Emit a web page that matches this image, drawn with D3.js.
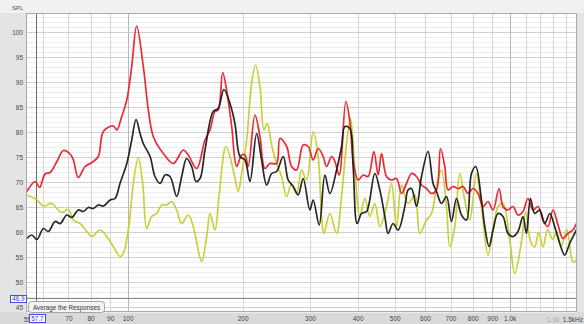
<!DOCTYPE html>
<html>
<head>
<meta charset="utf-8">
<script src="https://cdn.jsdelivr.net/npm/d3@7"></script>
<style>
  html, body { margin: 0; padding: 0; background: #e6e6e6; }
  svg { display: block; }
  text { font-family: "Liberation Sans", Arial, sans-serif; }
</style>
</head>
<body>
<script>
// Frequency response traces (Hz, dB SPL)
const freqRed = [54.5,57.3,58.8,60.8,62.7,65.3,67.9,70.7,72.1,74.3,77.4,80.6,83.8,86.4,91.7,93.7,96.5,99.5,102.5,105.6,109.9,113.3,116.7,124.0,131.7,139.8,144.1,151.6,159.4,164.3,169.3,172.6,177.3,181.6,187.2,192.9,198.8,202.8,206.8,215.4,222.0,228.7,235.7,245.4,250.4,260.7,268.6,276.9,288.0,296.8,305.9,315.3,324.9,331.7,341.8,348.7,357.8,372.5,381.6,389.2,401.1,413.4,426.0,441.0,452.5,461.9,476.0,490.5,505.5,521.0,536.9,553.3,570.2,587.7,605.6,624.2,643.2,658.9,676.2,689.7,710.8,732.5,754.9,777.9,801.7,826.2,851.5,877.5,904.3,937.7,960.4,989.8,1020,1051,1083,1116,1151,1186,1222,1259,1298,1338,1378,1420,1464,1494];
const splRed = [68.1,70.1,68.9,71.6,71.9,74.1,76.3,75.6,74.4,70.9,73.1,73.9,75.1,80.1,81.2,80.4,83.1,86.4,93.1,101.2,93.1,84.4,79.1,75.7,73.7,76.4,75.4,72.7,78.4,80.4,84.1,84.4,91.9,88.4,81.1,73.1,75.4,75.4,73.1,83.4,79.1,72.7,73.7,73.7,78.7,77.1,73.1,72.4,77.4,77.1,74.4,76.7,75.1,73.1,75.1,74.1,71.4,86.1,82.1,74.4,70.4,71.4,71.1,76.1,71.4,75.7,71.1,70.4,70.7,67.7,69.7,71.7,71.1,69.4,68.7,67.7,68.4,76.7,73.1,68.4,69.1,68.7,69.1,67.7,68.7,67.7,65.1,66.1,64.4,68.7,65.1,64.4,65.1,63.4,64.1,66.7,64.4,65.1,62.4,61.1,64.4,61.4,58.7,59.7,60.4,61.7];

const freqBlack = [54.5,56.1,57.9,60.2,62.0,64.6,66.6,69.3,71.4,74.3,76.6,78.9,81.3,83.8,86.4,90.0,92.7,95.5,99.5,102.5,105.2,107.8,109.9,114.5,117.9,121.6,125.3,129.1,134.4,138.5,142.7,147.1,151.0,154.7,159.4,167.5,172.6,178.6,185.3,190.9,196.8,202.8,209.0,217.6,224.2,231.1,238.2,245.4,255.4,263.2,271.2,279.5,288.0,299.9,305.9,317.2,328.3,338.3,352.3,363.0,370.3,381.6,389.2,398.7,409.5,422.0,443.6,457.2,471.2,480.5,495.2,510.4,531.5,542.0,553.3,570.2,587.7,611.4,630.1,643.2,662.9,683.2,704.0,725.5,747.7,770.6,794.1,814.9,843.4,860.3,882.9,904.3,932.0,960.4,989.8,1020,1051,1083,1106,1133,1163,1198,1235,1273,1311,1352,1393,1435,1479,1497];
const splBlack = [58.7,59.4,58.5,60.7,60.1,62.1,61.7,63.4,62.9,64.4,64.1,64.9,64.7,65.4,65.2,66.4,66.7,69.7,73.7,78.4,82.5,79.7,77.7,75.1,71.1,69.7,71.4,71.1,67.1,71.1,74.7,73.1,70.1,70.7,76.4,84.1,84.7,88.5,85.7,81.7,75.1,74.4,70.1,79.7,74.4,69.4,71.7,72.1,75.1,70.4,69.1,67.4,70.7,64.4,66.4,61.4,71.4,67.7,72.4,77.1,81.1,80.7,73.1,61.7,63.7,64.1,71.7,68.4,63.1,59.7,61.7,60.4,65.1,68.4,68.7,65.1,71.1,76.1,69.7,68.1,65.7,67.1,62.1,66.7,63.4,62.4,71.7,73.1,66.4,61.1,57.1,60.4,63.7,63.1,59.7,59.1,60.1,63.1,59.7,66.7,63.7,64.4,61.7,63.7,61.1,57.7,55.4,57.7,59.7,60.5];

const freqYellow = [54.5,57.9,60.2,63.3,65.3,67.2,70.0,72.1,75.1,78.2,80.6,84.7,88.2,91.7,95.5,97.4,100.4,103.5,106.6,109.5,112.2,115.6,119.2,122.8,126.6,130.4,134.4,138.5,144.1,148.5,156.2,161.0,164.3,169.3,173.7,180.9,189.0,194.7,198.8,204.9,211.1,216.3,222.0,227.4,231.9,238.2,245.4,252.9,260.7,268.6,276.9,285.3,294.0,305.9,315.3,321.8,326.3,338.3,352.3,363.0,374.1,383.2,393.3,405.3,417.7,430.5,443.6,457.2,476.0,490.5,505.5,521.0,542.0,564.4,581.7,605.6,624.2,643.2,662.9,683.2,696.9,718.2,740.1,762.7,786.0,818.4,843.4,877.5,904.3,932.0,960.4,1000,1031,1073,1101,1135,1163,1190,1222,1257,1296,1327,1364,1411,1464,1494];
const splYellow = [67.4,66.4,65.2,65.7,64.7,63.9,64.5,62.4,61.7,60.1,59.1,60.4,59.1,57.1,55.1,55.7,60.4,69.7,74.9,69.7,60.7,63.1,63.7,65.4,65.4,66.1,64.4,61.7,63.4,61.1,54.1,59.1,63.7,60.4,67.7,77.1,72.4,68.1,71.7,78.4,89.7,93.4,89.1,80.4,81.7,77.4,73.7,71.1,67.1,69.7,67.7,72.4,70.4,80.1,75.1,63.1,59.7,63.7,59.7,67.1,77.7,82.7,72.4,63.1,66.7,63.1,65.7,61.1,65.1,69.7,61.1,69.4,65.7,67.4,59.7,62.4,63.7,69.1,72.4,65.1,57.1,61.1,71.7,66.4,62.4,71.7,65.1,55.4,60.4,65.1,65.7,58.4,51.7,58,64,58,57,60,57,60.5,58.5,60,57.1,60.5,54,54.4];

// Axis ticks
const dbTicks = [45,50,55,60,65,70,75,80,85,90,95,100];
const freqTicks = [70,80,90,100,200,300,400,500,600,700,800,900,1000];
const freqTickLabels = ["70","80","90","100","200","300","400","500","600","700","800","900","1.0k"];
const freqGrid = [60,70,80,90,100,200,300,400,500,600,700,800,900,1000,1100,1200,1300,1400];

// Cursor readout
const cursorFreq = 57.7;
const cursorSPL = 46.9;

const W = 584, H = 324;
const plot = { left: 26, right: 577, top: 13, bottom: 312 };

const x = d3.scaleLog().domain([54.2, 1500]).range([plot.left, plot.right]);
const y = d3.scaleLinear().domain([44, 103.8]).range([plot.bottom, plot.top]);

const svg = d3.select("body").append("svg").attr("width", W).attr("height", H);

// Backgrounds
svg.append("rect").attr("width", W).attr("height", H).attr("fill", "#e4e4e4");
svg.append("rect").attr("width", W).attr("height", plot.top).attr("fill", "#f1f1f1");
svg.append("rect").attr("y", plot.bottom).attr("width", W).attr("height", H - plot.bottom).attr("fill", "#d9d9d9");
svg.append("rect")
  .attr("x", plot.left).attr("y", plot.top)
  .attr("width", plot.right - plot.left).attr("height", plot.bottom - plot.top)
  .attr("fill", "#ffffff");

const grid = svg.append("g");

// Horizontal grid: 1 dB minor, 5 dB major
d3.range(44, 104).forEach(v => {
  const major = v % 5 === 0;
  grid.append("line")
    .attr("x1", plot.left).attr("x2", plot.right)
    .attr("y1", Math.round(y(v)) + 0.5).attr("y2", Math.round(y(v)) + 0.5)
    .attr("stroke", major ? "#cfcfcf" : "#eeeeee")
    .attr("stroke-width", 1);
});

// Vertical grid
freqGrid.forEach(f => {
  const dark = (f === 100 || f === 1000);
  grid.append("line")
    .attr("x1", Math.round(x(f)) + 0.5).attr("x2", Math.round(x(f)) + 0.5)
    .attr("y1", plot.top).attr("y2", plot.bottom)
    .attr("stroke", dark ? "#b8b8b8" : "#d6d6d6")
    .attr("stroke-width", 1);
});

// Cursor lines
grid.append("line")
  .attr("x1", plot.left).attr("x2", plot.right)
  .attr("y1", Math.round(y(cursorSPL)) + 0.5).attr("y2", Math.round(y(cursorSPL)) + 0.5)
  .attr("stroke", "#8a8a8a").attr("stroke-width", 1);
grid.append("line")
  .attr("x1", Math.round(x(cursorFreq)) + 0.5).attr("x2", Math.round(x(cursorFreq)) + 0.5)
  .attr("y1", plot.top).attr("y2", plot.bottom)
  .attr("stroke", "#6e6e6e").attr("stroke-width", 1);

// Plot frame
svg.append("rect")
  .attr("x", plot.left + 0.5).attr("y", plot.top + 0.5)
  .attr("width", plot.right - plot.left - 1).attr("height", plot.bottom - plot.top - 1)
  .attr("fill", "none").attr("stroke", "#a9a9a9");

// Traces
svg.append("clipPath").attr("id", "clip")
  .append("rect")
  .attr("x", plot.left + 1).attr("y", plot.top + 1)
  .attr("width", plot.right - plot.left - 2).attr("height", plot.bottom - plot.top - 2);

const line = d3.line()
  .x(d => x(d[0]))
  .y(d => y(d[1]))
  .curve(d3.curveCatmullRom.alpha(0.5));

const traces = [
  { f: freqYellow, v: splYellow, color: "#c6cf2c" },
  { f: freqRed, v: splRed, color: "#e8202a" },
  { f: freqBlack, v: splBlack, color: "#1c1c1c" }
];

const tg = svg.append("g").attr("clip-path", "url(#clip)");
traces.forEach(t => {
  tg.append("path")
    .datum(d3.zip(t.f, t.v))
    .attr("d", line)
    .attr("fill", "none")
    .attr("stroke", t.color)
    .attr("stroke-width", 1.7)
    .attr("stroke-linejoin", "round")
    .attr("opacity", 0.95);
});

// Y axis
const yAxis = d3.axisLeft(y).tickValues(dbTicks).tickSize(0).tickPadding(3);
const ya = svg.append("g").attr("transform", `translate(${plot.left},0)`).call(yAxis);
ya.select(".domain").remove();
ya.selectAll("text").attr("font-size", 6.5).attr("fill", "#444").attr("font-family", "Liberation Sans, Arial, sans-serif");

svg.append("text").attr("x", 12).attr("y", 9.5)
  .attr("font-size", 6).attr("fill", "#444").text("SPL");

// X axis
const xAxis = d3.axisBottom(x).tickValues(freqTicks).tickSize(0).tickPadding(4)
  .tickFormat((d, i) => freqTickLabels[i]);
const xa = svg.append("g").attr("transform", `translate(0,${plot.bottom})`).call(xAxis);
xa.select(".domain").remove();
xa.selectAll("text").attr("font-size", 6.5).attr("fill", "#444").attr("font-family", "Liberation Sans, Arial, sans-serif");

svg.append("text").attr("x", x(1300)).attr("y", 322).attr("text-anchor", "middle")
  .attr("font-size", 6.5).attr("fill", "#b0b0b0").text("1.3k");
svg.append("text").attr("x", 583).attr("y", 322).attr("text-anchor", "end")
  .attr("font-size", 6.5).attr("fill", "#444").text("1.5kHz");
svg.append("text").attr("x", 24).attr("y", 322)
  .attr("font-size", 6.5).attr("fill", "#444").text("55");

// Cursor readout boxes
function readout(xp, yp, w, h, label) {
  svg.append("rect").attr("x", xp + 0.5).attr("y", yp + 0.5).attr("width", w).attr("height", h)
    .attr("fill", "#ffffff").attr("stroke", "#4a4af0").attr("stroke-width", 1);
  svg.append("text").attr("x", xp + w / 2 + 0.5).attr("y", yp + h - 1.5).attr("text-anchor", "middle")
    .attr("font-size", 6.3).attr("fill", "#3434e0").text(label);
}
readout(10, Math.round(y(cursorSPL)) - 3, 16, 7, cursorSPL.toFixed(1));
readout(Math.round(x(cursorFreq)) - 7, 314, 16, 8, cursorFreq.toFixed(1));

// Button
svg.append("rect").attr("x", 28.5).attr("y", 301.5).attr("width", 76).attr("height", 11)
  .attr("rx", 3).attr("fill", "#f3f3f3").attr("stroke", "#a5a5a5");
svg.append("text").attr("x", 66.5).attr("y", 309.5).attr("text-anchor", "middle")
  .attr("font-size", 6.3).attr("fill", "#333").text("Average the Responses");
</script>
</body>
</html>
